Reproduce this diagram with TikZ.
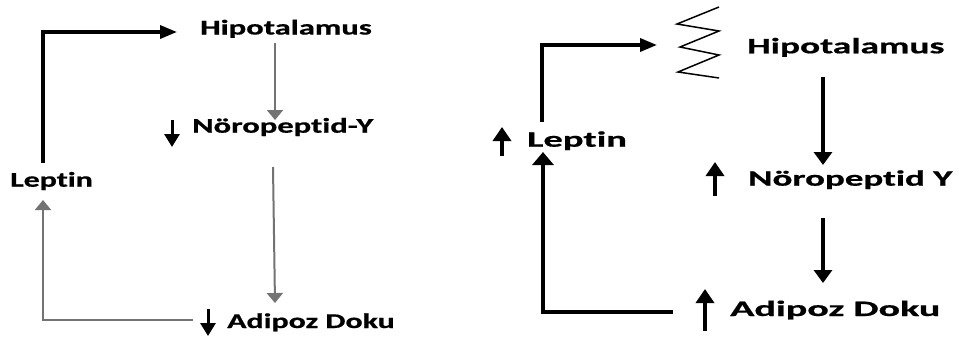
\documentclass[tikz,border=0pt]{standalone}
\usepackage{fontspec}
\setmainfont{Carlito}
\newfontfamily\lblfont{Carlito}[UprightFont=*-Bold, FakeBold=0.6, RawFeature={-liga;-clig;-calt}]
\usetikzlibrary{arrows.meta}
\newcommand\wtxt[2]{\scalebox{#1}[1]{#2}}
\definecolor{garrow}{RGB}{115,115,115}
\begin{document}
\begin{tikzpicture}[x=1pt,y=-1pt,
  lbl/.style={inner sep=0pt, anchor=base west, font=\fontsize{21}{21}\lblfont},
  lblr/.style={inner sep=0pt, anchor=base west, font=\fontsize{22}{22}\lblfont},
  garr/.style={draw=garrow, line width=2pt, line join=miter, -{Triangle[length=10pt,width=16pt]}, garrow},
  barr/.style={draw=black, line width=3.4pt, line join=miter, -{Triangle[length=17pt,width=13pt]}},
  bdown/.style={draw=black, line width=3.2pt, -{Triangle[length=13pt,width=18pt]}},
  bthick/.style={draw=black, line width=4.4pt, line join=miter, -{Triangle[length=13pt,width=21pt]}},
  small/.style={draw=black, line width=3pt, -{Triangle[length=13pt,width=15pt]}},
  smallr/.style={draw=black, line width=3.6pt, -{Triangle[length=14pt,width=18pt]}},
  zz/.style={draw=black, line width=1.5pt, line join=miter}]
\useasboundingbox[fill=white] (0,0) rectangle (959,338);

% ---------- left panel ----------
\node[lbl] (hypL) at (200,34.5) {\wtxt{1.55}{Hipotalamus}};
\node[lbl] (npyL) at (192,132.7) {\wtxt{1.55}{Nöropep{}ti{}d-Y}};
\node[lbl] (lepL) at (10,186.7) {\wtxt{1.52}{Lep{}ti{}n}};
\node[lbl] (adpL) at (227,328) {\wtxt{1.52}{Adipoz Doku}};

\coordinate (lepLtop) at (43,163);
\coordinate (hypLin) at (177,32);
\coordinate (hypLout) at (275,43);
\coordinate (npyLin) at (275,120);
\coordinate (npyLout) at (273,167);
\coordinate (adpLin) at (275,303);
\coordinate (adpLout) at (193,320);
\coordinate (lepLin) at (43,200);

\draw[barr] (lepLtop) |- (hypLin);
\draw[garr] (hypLout) -- (npyLin);
\draw[garr] (npyLout) -- (adpLin);
\draw[garr] (adpLout) -| (lepLin);

\coordinate (dnA1) at (172,120); \coordinate (dnA2) at (172,147);
\coordinate (dnB1) at (208,309); \coordinate (dnB2) at (208,336);
\draw[small] (dnA1) -- (dnA2);
\draw[small] (dnB1) -- (dnB2);

% ---------- right panel ----------
\node[lblr] (hypR) at (747,53.3) {\wtxt{1.70}{Hipotalamus}};
\node[lblr] (npyR) at (748,185.7) {\wtxt{1.68}{Nöropep{}ti{}d Y}};
\node[lblr] (lepR) at (527,146.7) {\wtxt{1.75}{Lep{}ti{}n}};
\node[lblr] (adpR) at (730,316) {\wtxt{1.82}{Adipoz Doku}};

\coordinate (lepRtop) at (542,122);
\coordinate (hypRin) at (657,45);
\coordinate (hypRout) at (823,77);
\coordinate (npyRin) at (823,165);
\coordinate (npyRout) at (823,218);
\coordinate (adpRin) at (823,283);
\coordinate (adpRout) at (673,312);
\coordinate (lepRin) at (543,152);

\draw[barr] (lepRtop) |- (hypRin);
\draw[bdown] (hypRout) -- (npyRin);
\draw[bdown] (npyRout) -- (adpRin);
\draw[bthick] (adpRout) -| (lepRin);

\draw[zz] (719,7) -- (677,24) -- (719,31) -- (680,47) -- (719,55) -- (678,72) -- (719,78);

\coordinate (upA1) at (502,156); \coordinate (upA2) at (502,127);
\coordinate (upB1) at (715,196); \coordinate (upB2) at (715,162);
\coordinate (upC1) at (705,331); \coordinate (upC2) at (705,289);
\draw[smallr] (upA1) -- (upA2);
\draw[smallr] (upB1) -- (upB2);
\draw[smallr] (upC1) -- (upC2);
\end{tikzpicture}
\end{document}
